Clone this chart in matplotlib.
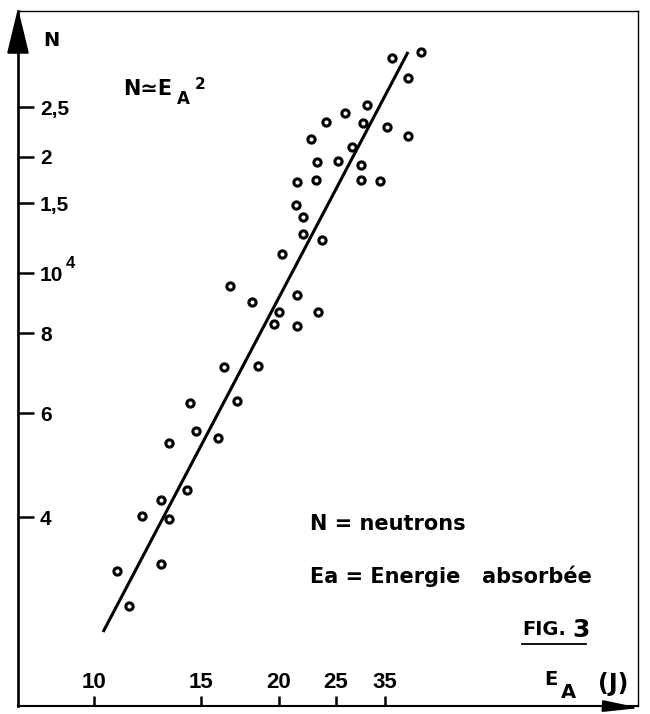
import numpy as np
import matplotlib
matplotlib.use('Agg')
import matplotlib.pyplot as plt
import matplotlib.transforms as mtransforms
from matplotlib.lines import Line2D

# ==== data ====
E_A = [11.4, 10.9, 12.9, 12.0, 13.3, 12.9, 14.2, 13.3, 14.7, 16.0,
       14.4, 17.1, 16.3, 18.5, 16.7, 18.1, 20.0, 19.6, 21.5, 21.5,
       23.3, 20.2, 22.0, 23.7, 22.0, 21.4, 21.5, 23.1, 29.7, 33.8,
       23.2, 25.3, 29.7, 22.7, 27.9, 24.0, 30.1, 35.5, 41.0, 26.6,
       30.9, 36.7, 44.8, 41.0]
N = [2830, 3240, 3330, 4020, 3970, 4270, 4440, 5340, 5590, 5440,
     6220, 6260, 7080, 7100, 9530, 8980, 8650, 8270, 9210, 8210,
     8650, 11160, 12540, 12110, 13830, 14830, 17100, 17320, 17320, 17210,
     19380, 19500, 19020, 21670, 20910, 23380, 23280, 22870, 21970, 24340,
     25220, 31110, 31960, 28460]

# fitted line N ~ E_A^2 (end points)
FIT_E = [10.35, 41.0]
FIT_N = [2555, 31960]

X_TICKS = [10, 15, 20, 25, 35]
X_LABELS = ['10', '15', '20', '25', '35']
Y_TICKS = [4000, 6000, 8000, 10000, 15000, 20000, 25000]
Y_LABELS = ['4', '6', '8', '10', '1,5', '2', '2,5']

# hand drawn rulers: where each graduation sits (pixels, y measured from bottom)
X_POS = [94, 201, 279, 336, 385]
Y_POS = [197, 301, 381, 441, 511, 557, 607]

W, H = 650, 714
LEFT, RIGHT, TOP, BOTTOM = 18, 638, 11, 706

plt.rcParams['font.family'] = ['Liberation Sans', 'DejaVu Sans']
plt.rcParams['font.weight'] = 'bold'
DV = ['DejaVu Sans']


def extrap(x, xp, fp):
    x = np.asarray(x, float)
    xp = np.asarray(xp, float)
    fp = np.asarray(fp, float)
    out = np.interp(x, xp, fp)
    lo = (fp[1] - fp[0]) / (xp[1] - xp[0])
    hi = (fp[-1] - fp[-2]) / (xp[-1] - xp[-2])
    out = np.where(x < xp[0], fp[0] + (x - xp[0]) * lo, out)
    out = np.where(x > xp[-1], fp[-1] + (x - xp[-1]) * hi, out)
    return out


def make_scale(ticks, pos):
    lt = np.log10(ticks)

    def fwd(v):
        v = np.clip(np.asarray(v, float), 1e-12, None)
        return extrap(np.log10(v), lt, pos)

    def inv(p):
        return 10 ** extrap(p, pos, lt)
    return fwd, inv


fig = plt.figure(figsize=(W / 100, H / 100), dpi=100)
ax = fig.add_axes([LEFT / W, 1 - BOTTOM / H, (RIGHT - LEFT) / W, (BOTTOM - TOP) / H])

xf, xi = make_scale(X_TICKS, X_POS)
yf, yi = make_scale(Y_TICKS, Y_POS)
ax.set_xscale('function', functions=(xf, xi))
ax.set_yscale('function', functions=(yf, yi))
ax.set_xlim(float(xi(LEFT)), float(xi(RIGHT)))
ax.set_ylim(float(yi(H - BOTTOM)), float(yi(H - TOP)))

ax.plot(FIT_E, FIT_N, color='black', lw=2.2, solid_capstyle='butt', zorder=2)
ax.plot(E_A, N, 'o', ms=5.2, mfc='white', mec='black', mew=2.2, zorder=3)

ax.set_xticks(X_TICKS, X_LABELS)
ax.set_yticks(Y_TICKS, Y_LABELS)
ax.minorticks_off()
ax.tick_params(axis='x', direction='in', length=7, width=1.8, pad=-24.5, labelsize=16)
ax.tick_params(axis='y', direction='in', length=11.5, width=1.8, pad=-15.8, labelsize=15)
for lab in ax.get_yticklabels():
    lab.set_horizontalalignment('left')

for side, lw in [('left', 1.9), ('bottom', 1.5), ('top', 1.0), ('right', 1.0)]:
    ax.spines[side].set_linewidth(lw)

# exponent of the 10^4 graduation
ax.annotate('4', xy=(0, 10000),
            xycoords=mtransforms.blended_transform_factory(ax.transAxes, ax.transData),
            xytext=(34.5, 7), textcoords='offset points', fontsize=12,
            ha='left', va='center')

# axis arrows
ax.annotate('', xy=(0, 1 + 3 / 695), xytext=(0, 1 - 40 / 695), xycoords='axes fraction',
            arrowprops=dict(arrowstyle='-|>,head_length=2.9,head_width=0.7',
                            color='black', lw=1.5, shrinkA=0, shrinkB=0, mutation_scale=10),
            annotation_clip=False)
ax.annotate('', xy=(1 + 2 / 620, -2 / 695), xytext=(1 - 36 / 620, 0), xycoords='axes fraction',
            arrowprops=dict(arrowstyle='-|>,head_length=2.2,head_width=0.35',
                            color='black', lw=1.5, shrinkA=0, shrinkB=0, mutation_scale=10),
            annotation_clip=False)


def fx(px):
    return px / W


def fy(py):
    return 1 - py / H


fig.text(fx(43), fy(40), 'N', fontsize=14, family=DV, va='center', ha='left')

fig.text(fx(123), fy(95), 'N≃E', fontsize=15, family=DV, va='baseline')
fig.text(fx(177), fy(104), 'A', fontsize=12, family=DV, va='baseline')
fig.text(fx(195), fy(89), '2', fontsize=11, family=DV, va='baseline')

fig.text(fx(310), fy(530), 'N = neutrons', fontsize=15, family=DV, va='baseline')
fig.text(fx(310), fy(583), 'Ea = Energie   absorbée', fontsize=15, family=DV, va='baseline')

fig.text(fx(522), fy(635), 'FIG.', fontsize=14, family=DV, va='baseline')
fig.text(fx(572), fy(637), '3', fontsize=18, family=DV, va='baseline')
fig.add_artist(Line2D([fx(522), fx(586)], [fy(644), fy(644)], color='black', lw=1.3,
                      transform=fig.transFigure))

fig.text(fx(544), fy(685), 'E', fontsize=14, family=DV, va='baseline')
fig.text(fx(561), fy(698), 'A', fontsize=14, family=DV, va='baseline')
fig.text(fx(598), fy(691), '(J)', fontsize=17, family=DV, va='baseline')

fig.savefig('out.png', dpi=100, facecolor='white')
